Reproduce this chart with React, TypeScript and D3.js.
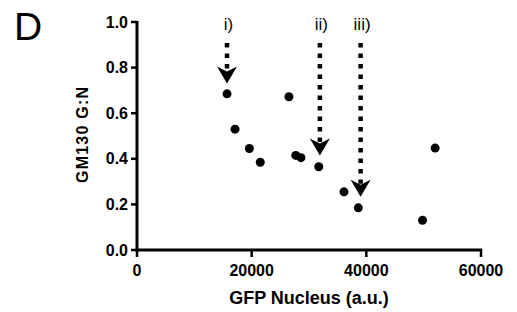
import React from 'react';
import * as d3 from 'd3';

// GFP nucleus intensity (a.u.) vs GM130 G:N ratio
const gfpNucleus = [15700, 17100, 19600, 21500, 26500, 27700, 28600, 31700, 36100, 38600, 49800, 52000];
const gm130Ratio = [0.685, 0.53, 0.445, 0.385, 0.672, 0.415, 0.405, 0.365, 0.255, 0.185, 0.13, 0.447];

const xTicks = [0, 20000, 40000, 60000];
const yTicks = [0, 0.2, 0.4, 0.6, 0.8, 1.0];

// annotated cells
const arrowLabels = ['i)', 'ii)', 'iii)'];
const arrowX = [15700, 31900, 39000];
const arrowTip = [0.73, 0.415, 0.234];
const arrowTop = 0.908;

const W = 517;
const H = 312;
const FONT = '"Liberation Sans", Arial, Helvetica, sans-serif';

export default function App() {
  const x = d3.scaleLinear().domain([0, 60000]).range([137, 481]);
  const y = d3.scaleLinear().domain([0, 1]).range([250, 22]);

  const headH = 17;
  const headW = 10;
  const notch = 5;
  const head = d3.path();
  head.moveTo(0, 0);
  head.lineTo(-headW, -headH);
  head.lineTo(0, -headH + notch);
  head.lineTo(headW, -headH);
  head.closePath();

  return (
    <svg width={W} height={H} style={{ position: 'absolute', left: 0, top: 0, background: '#fff' }}>
      <text x={14} y={40} fontFamily={FONT} fontSize={39} fill="#000">D</text>

      {/* y axis */}
      <line x1={x(0)} x2={x(0)} y1={y(1) - 1} y2={y(0) + 1.5} stroke="#000" strokeWidth={3} />
      {yTicks.map(t => (
        <g key={'y' + t}>
          <line x1={x(0) - 6} x2={x(0)} y1={y(t)} y2={y(t)} stroke="#000" strokeWidth={2.5} />
          <text x={x(0) - 9} y={y(t) + 5.5} textAnchor="end" fontFamily={FONT} fontWeight="bold" fontSize={16}>
            {d3.format('.1f')(t)}
          </text>
        </g>
      ))}
      <text
        transform={`translate(88,135) rotate(-90)`}
        textAnchor="middle"
        fontFamily={FONT}
        fontWeight="bold"
        fontSize={16}
        textLength={96}
      >
        GM130 G:N
      </text>

      {/* x axis */}
      <line x1={x(0) - 1.5} x2={x(60000) + 1.2} y1={y(0)} y2={y(0)} stroke="#000" strokeWidth={3} />
      {xTicks.map(t => (
        <g key={'x' + t}>
          <line x1={x(t)} x2={x(t)} y1={y(0)} y2={y(0) + 7} stroke="#000" strokeWidth={2.5} />
          <text x={x(t)} y={y(0) + 26} textAnchor="middle" fontFamily={FONT} fontWeight="bold" fontSize={16}>
            {t}
          </text>
        </g>
      ))}
      <text x={309} y={304} textAnchor="middle" fontFamily={FONT} fontWeight="bold" fontSize={18}>
        GFP Nucleus (a.u.)
      </text>

      {/* points */}
      {gfpNucleus.map((v, i) => (
        <circle key={i} cx={x(v)} cy={y(gm130Ratio[i])} r={4.5} fill="#000" />
      ))}

      {/* arrows */}
      {arrowX.map((v, i) => {
        const tipY = y(arrowTip[i]);
        return (
          <g key={'a' + i}>
            <line
              x1={x(v)}
              x2={x(v)}
              y1={y(arrowTop)}
              y2={tipY - headH + notch - 1}
              stroke="#000"
              strokeWidth={4.5}
              strokeDasharray="4.5 6"
            />
            <path d={head.toString()} transform={`translate(${x(v)},${tipY})`} fill="#000" />
            <text x={x(v) + 1.5} y={30} textAnchor="middle" fontFamily={FONT} fontSize={17}>
              {arrowLabels[i]}
            </text>
          </g>
        );
      })}
    </svg>
  );
}
